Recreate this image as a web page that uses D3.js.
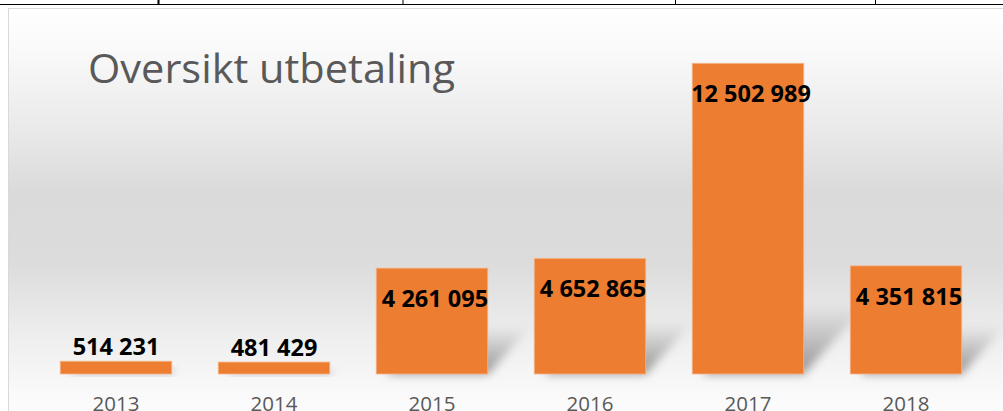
<!DOCTYPE html>
<html>
<head>
<meta charset="utf-8">
<script src="https://cdn.jsdelivr.net/npm/d3@7"></script>
<style>
  html, body { margin: 0; padding: 0; background: #ffffff; overflow: hidden; }
  svg { display: block; }
</style>
</head>
<body>
<svg id="chart" width="1003" height="411"></svg>
<script>
const years = ["2013", "2014", "2015", "2016", "2017", "2018"];
const values = [514231, 481429, 4261095, 4652865, 12502989, 4351815];
const title = "Oversikt utbetaling";

const W = 1003, H = 411;
const svg = d3.select("#chart");
const defs = svg.append("defs");

// background gradient
const bg = defs.append("linearGradient").attr("id", "bgGrad")
  .attr("x1", 0).attr("y1", 0).attr("x2", 0).attr("y2", 1);
[[0, "#ffffff"], [0.12, "#f8f8f8"], [0.3, "#e9e9e9"], [0.45, "#dadada"], [0.62, "#dcdcdc"], [0.8, "#eeeeee"], [0.93, "#f9f9f9"], [1, "#fdfdfd"]]
  .forEach(([o, c]) => bg.append("stop").attr("offset", o).attr("stop-color", c));

const blur = defs.append("filter").attr("id", "blur").attr("x", "-50%").attr("y", "-50%").attr("width", "200%").attr("height", "200%");
blur.append("feGaussianBlur").attr("stdDeviation", 5);

const shGrad = defs.append("linearGradient").attr("id", "shGrad")
  .attr("x1", 0).attr("y1", 1).attr("x2", 0).attr("y2", 0);
shGrad.append("stop").attr("offset", 0).attr("stop-color", "#8a8a8a").attr("stop-opacity", 0.95);
shGrad.append("stop").attr("offset", 0.6).attr("stop-color", "#9a9a9a").attr("stop-opacity", 0.45);
shGrad.append("stop").attr("offset", 1).attr("stop-color", "#9a9a9a").attr("stop-opacity", 0);

// page background and table lines at top
svg.append("rect").attr("width", W).attr("height", H).attr("fill", "#ffffff");
svg.append("line").attr("x1", 0).attr("x2", W).attr("y1", 4.5).attr("y2", 4.5).attr("stroke", "#000").attr("stroke-width", 1);
[[158.5, 2], [403, 1], [675.5, 1], [875.5, 1]].forEach(([x, w]) => {
  svg.append("line").attr("x1", x).attr("x2", x).attr("y1", 0).attr("y2", 5).attr("stroke", "#000").attr("stroke-width", w);
});

// chart area
svg.append("rect").attr("x", 8.5).attr("y", 8.5).attr("width", W).attr("height", H)
  .attr("fill", "url(#bgGrad)").attr("stroke", "#d9d9d9").attr("stroke-width", 1);

// scales
const x = d3.scaleBand().domain(years).range([37, 985]).paddingInner(0.294).paddingOuter(0.147);
const y = d3.scaleLinear().domain([0, 14000000]).range([374, 26.1]);

const data = years.map((yr, i) => ({ year: yr, value: values[i] }));

// shadows
svg.append("g").selectAll("path").data(data).join("path")
  .attr("d", d => {
    const x0 = x(d.year) + 10, x1 = x(d.year) + x.bandwidth();
    const base = y(0);
    const hs = Math.min((y(0) - y(d.value)) * 0.45, 70);
    const sk = hs * 0.9;
    return `M${x0},${base}L${x1},${base}L${x1 + sk},${base - hs}L${x0 + sk},${base - hs}Z`;
  })
  .attr("fill", "url(#shGrad)")
  .attr("filter", "url(#blur)");

// bars
svg.append("g").selectAll("rect").data(data).join("rect")
  .attr("x", d => x(d.year))
  .attr("y", d => y(d.value))
  .attr("width", x.bandwidth())
  .attr("height", d => y(0) - y(d.value))
  .attr("fill", "#ed7d31")
  .attr("stroke", "#f5b58c")
  .attr("stroke-width", 0.8);

// value labels
const fmt = d3.formatLocale({ decimal: ",", thousands: " ", grouping: [3], currency: ["", ""] }).format(",d");
svg.append("g").selectAll("text").data(data).join("text")
  .attr("x", d => x(d.year) + x.bandwidth() / 2 + ((y(0) - y(d.value)) > 50 ? 3 : 0))
  .attr("y", d => (y(0) - y(d.value)) > 50 ? y(d.value) + 39 : y(d.value) - 6)
  .attr("text-anchor", "middle")
  .attr("font-family", "'Open Sans', sans-serif")
  .attr("font-weight", 700)
  .attr("font-size", 23.5)
  .attr("fill", "#000")
  .text(d => fmt(d.value));

// x axis
const axis = svg.append("g").attr("transform", `translate(0,${y(0)})`)
  .call(d3.axisBottom(x).tickSize(0).tickPadding(0));
axis.select(".domain").remove();
axis.selectAll("text")
  .attr("y", 37).attr("dy", 0)
  .attr("font-family", "'Open Sans', sans-serif")
  .attr("font-size", 20.5)
  .attr("fill", "#595959");

// title
svg.append("text")
  .attr("x", 88).attr("y", 83)
  .attr("font-family", "'Open Sans', sans-serif")
  .attr("font-size", 40)
  .attr("fill", "#595959")
  .attr("textLength", 367)
  .attr("lengthAdjust", "spacingAndGlyphs")
  .text(title);
</script>
</body>
</html>
